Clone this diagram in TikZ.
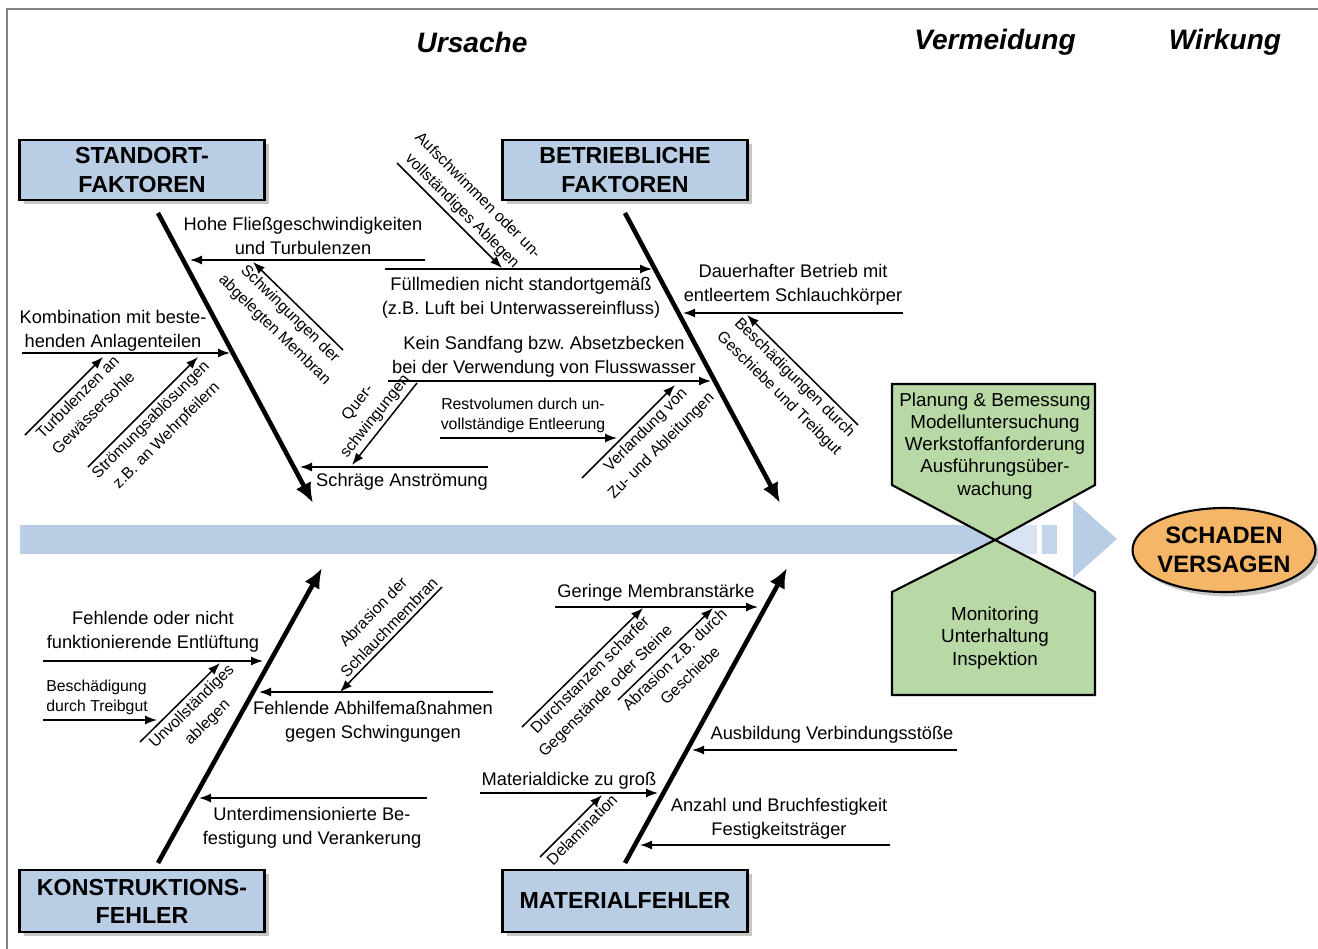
\documentclass[tikz,border=0pt]{standalone}
\usepackage{fontspec}
\setmainfont{Liberation Sans}
\usetikzlibrary{arrows.meta,shapes.geometric,shadows}
\frenchspacing

\definecolor{boxblue}{RGB}{185,205,229}
\definecolor{bandlight}{RGB}{216,228,242}
\definecolor{sage}{RGB}{184,216,166}
\definecolor{dmgorange}{RGB}{246,182,104}
\definecolor{framegray}{RGB}{130,130,130}

\tikzset{
  bone/.style={line width=2.6pt,-{Latex[length=4mm,width=3.4mm]}},
  twig/.style={line width=0.85pt,-{Latex[length=2.4mm,width=1.8mm]}},
  lbl/.style={inner sep=0pt,align=center,font=\fontsize{10.4}{13.6}\selectfont},
  slbl/.style={inner sep=0pt,align=center,font=\fontsize{9}{11.3}\selectfont},
  dlbl/.style={inner sep=0pt,align=center,sloped,font=\fontsize{9}{12.6}\selectfont},
  groupbox/.style={draw,line width=1.2pt,fill=boxblue,minimum width=4.9cm,
    minimum height=1.2cm,align=center,font=\bfseries\fontsize{13.2}{16}\selectfont,
    drop shadow={shadow xshift=2.5pt,shadow yshift=-2.5pt,opacity=.45}},
  heading/.style={inner sep=0pt,font=\bfseries\itshape\fontsize{16}{19}\selectfont},
  measure/.style={inner sep=0pt,align=center,font=\fontsize{10.7}{12.6}\selectfont}
}

\begin{document}
\begin{tikzpicture}[x=0.02cm,y=-0.02cm]
\useasboundingbox (0,0) rectangle (1318,949);
\draw[framegray,line width=1.1pt] (7,949) -- (7,9) -- (1318,9);

% headings
\node[heading] (ursache) at (472,42) {Ursache};
\node[heading] (vermeid) at (995,42) {Vermeidung};
\node[heading] (wirkung) at (1225,42) {Wirkung};

% main band
\fill[boxblue] (20,525) rectangle (1000,554);
\fill[bandlight] (1000,525) rectangle (1037,554);
\fill[boxblue!85] (1042,525) rectangle (1057,554);
\fill[boxblue] (1073,500) -- (1117,539) -- (1073,578) -- cycle;

% prevention
\coordinate (cross) at (995,540);
\draw[fill=sage,line width=1.2pt] (892,384) -- (1095,384) -- (1095,485) -- (cross) -- (892,485) -- cycle;
\draw[fill=sage,line width=1.2pt] (cross) -- (1095,592) -- (1095,695) -- (892,695) -- (892,592) -- cycle;
\node[measure] (planung) at (995,446) {Planung \& Bemessung\\Modelluntersuchung\\Werkstoffanforderung\\Ausführungsüber-\\wachung};
\node[measure] (monitor) at (995,638) {Monitoring\\Unterhaltung\\Inspektion};

% effect
\node[ellipse,draw,line width=1.2pt,fill=dmgorange,inner sep=0pt,inner xsep=-3pt,
  minimum width=3.66cm,minimum height=1.68cm,align=center,
  font=\bfseries\fontsize{13.5}{16.4}\selectfont,
  drop shadow={shadow xshift=2.5pt,shadow yshift=-2.5pt,opacity=.45}] (schaden) at (1224,550) {SCHADEN\\VERSAGEN};

% groups
\node[groupbox] (standort) at (142,170) {STANDORT-\\FAKTOREN};
\node[groupbox] (betrieb) at (625,170) {BETRIEBLICHE\\FAKTOREN};
\node[groupbox,minimum height=1.24cm] (konstr) at (142,901) {KONSTRUKTIONS-\\FEHLER};
\node[groupbox,minimum height=1.24cm] (material) at (625,901) {MATERIALFEHLER};

% bones
\coordinate (sf0) at (158,213); \coordinate (sf1) at (313,503);
\coordinate (bf0) at (625,213); \coordinate (bf1) at (780,503);
\coordinate (kf0) at (158,863); \coordinate (kf1) at (322,568);
\coordinate (mf0) at (625,863); \coordinate (mf1) at (787,568);
\draw[bone] (sf0) -- (sf1);
\draw[bone] (bf0) -- (bf1);
\draw[bone] (kf0) -- (kf1);
\draw[bone] (mf0) -- (mf1);

% standort
\coordinate (hohe0) at (425,260); \coordinate (hohe1) at (190,260);
\coordinate (kombi0) at (22,353); \coordinate (kombi1) at (230,353);
\coordinate (turb0) at (25,435); \coordinate (turb1) at (103,357);
\coordinate (stroem0) at (88,467); \coordinate (stroem1) at (198,357);
\coordinate (schwing0) at (343,350); \coordinate (schwing1) at (253,262);
\coordinate (quer0) at (417,383); \coordinate (quer1) at (352,465);
\coordinate (schraeg0) at (488,467); \coordinate (schraeg1) at (300,467);
\draw[twig] (hohe0) -- (hohe1);
\draw[twig] (kombi0) -- (kombi1);
\draw[twig] (turb0) -- node[dlbl,below=2pt,pos=.58] (lTurb) {Turbulenzen an\\Gewässersohle} (turb1);
\draw[twig] (stroem0) -- node[dlbl,below=2pt,pos=.5] (lStroem) {Strömungsablösungen\\z.B. an Wehrpfeilern} (stroem1);
\draw[twig] (schwing0) -- node[dlbl,below=2pt,pos=.5] (lSchwing) {Schwingungen der\\abgelegten Membran} (schwing1);
\draw[twig] (quer0) -- node[dlbl,above=2pt,pos=.5] (lQuer) {Quer-\\schwingungen} (quer1);
\draw[twig] (schraeg0) -- (schraeg1);
\node[lbl] (lHohe) at (303,236) {Hohe Fließgeschwindigkeiten\\und Turbulenzen};
\node[lbl] (lKombi) at (113,331) {Kombination mit beste-\\henden Anlagenteilen};
\node[lbl] (lSchraeg) at (402,482) {Schräge Anströmung};

% betrieb
\coordinate (aufsch0) at (397,163); \coordinate (aufsch1) at (502,268);
\coordinate (fuell0) at (385,269); \coordinate (fuell1) at (652,269);
\coordinate (sand0) at (388,381); \coordinate (sand1) at (711,381);
\coordinate (rest0) at (440,438); \coordinate (rest1) at (617,438);
\coordinate (verl0) at (582,478); \coordinate (verl1) at (675,385);
\coordinate (dauer0) at (903,313); \coordinate (dauer1) at (683,313);
\coordinate (besch0) at (858,425); \coordinate (besch1) at (747,315);
\draw[twig] (aufsch0) -- node[dlbl,above=2pt,pos=.54] (lAufsch) {Aufschwimmen oder un-\\vollständiges Ablegen} (aufsch1);
\draw[twig] (fuell0) -- (fuell1);
\draw[twig] (sand0) -- (sand1);
\draw[twig] (rest0) -- (rest1);
\draw[twig] (verl0) -- node[dlbl,below=2pt,pos=.6] (lVerl) {Verlandung von\\Zu- und Ableitungen} (verl1);
\draw[twig] (dauer0) -- (dauer1);
\draw[twig] (besch0) -- node[dlbl,below=2pt,pos=.5] (lBesch) {Beschädigungen durch\\Geschiebe und Treibgut} (besch1);
\node[lbl] (lFuell) at (521,298) {Füllmedien nicht standortgemäß\\(z.B. Luft bei Unterwassereinfluss)};
\node[lbl] (lSand) at (544,357) {Kein Sandfang bzw. Absetzbecken\\bei der Verwendung von Flusswasser};
\node[slbl] (lRest) at (523,415) {Restvolumen durch un-\\vollständige Entleerung};
\node[lbl] (lDauer) at (793,285) {Dauerhafter Betrieb mit\\entleertem Schlauchkörper};

% konstruktion
\coordinate (entl0) at (43,661); \coordinate (entl1) at (263,661);
\coordinate (treib0) at (43,720); \coordinate (treib1) at (157,720);
\coordinate (unvoll0) at (140,742); \coordinate (unvoll1) at (220,663);
\coordinate (abhilfe0) at (493,692); \coordinate (abhilfe1) at (259,692);
\coordinate (abras0) at (442,587); \coordinate (abras1) at (340,692);
\coordinate (unterd0) at (427,798); \coordinate (unterd1) at (199,798);
\draw[twig] (entl0) -- (entl1);
\draw[twig] (treib0) -- (treib1);
\draw[twig] (unvoll0) -- node[dlbl,below=2pt,pos=.55] (lUnvoll) {Unvollständiges\\ablegen} (unvoll1);
\draw[twig] (abhilfe0) -- (abhilfe1);
\draw[twig] (abras0) -- node[dlbl,above=2pt,pos=.45] (lAbras) {Abrasion der\\Schlauchmembran} (abras1);
\draw[twig] (unterd0) -- (unterd1);
\node[lbl] (lEntl) at (153,632) {Fehlende oder nicht\\funktionierende Entlüftung};
\node[slbl,align=left,anchor=west] (lTreib) at (46,697) {Beschädigung\\durch Treibgut};
\node[lbl] (lAbhilfe) at (373,722) {Fehlende Abhilfemaßnahmen\\gegen Schwingungen};
\node[lbl] (lUnterd) at (312,828) {Unterdimensionierte Be-\\festigung und Verankerung};

% material
\coordinate (gering0) at (555,607); \coordinate (gering1) at (758,607);
\coordinate (durch0) at (522,727); \coordinate (durch1) at (643,608);
\coordinate (abrz0) at (618,700); \coordinate (abrz1) at (713,608);
\coordinate (ausb0) at (957,750); \coordinate (ausb1) at (692,750);
\coordinate (dicke0) at (480,793); \coordinate (dicke1) at (658,793);
\coordinate (delam0) at (540,857); \coordinate (delam1) at (602,795);
\coordinate (anzahl0) at (890,845); \coordinate (anzahl1) at (640,845);
\draw[twig] (gering0) -- (gering1);
\draw[twig] (durch0) -- node[dlbl,below=2pt,pos=.5] (lDurch) {Durchstanzen scharfer\\Gegenstände oder Steine} (durch1);
\draw[twig] (abrz0) -- node[dlbl,below=2pt,pos=.52] (lAbrz) {Abrasion z.B. durch\\Geschiebe} (abrz1);
\draw[twig] (ausb0) -- (ausb1);
\draw[twig] (dicke0) -- (dicke1);
\draw[twig] (delam0) -- node[dlbl,below=2pt,pos=.56] (lDelam) {Delamination} (delam1);
\draw[twig] (anzahl0) -- (anzahl1);
\node[lbl] (lGering) at (656,593) {Geringe Membranstärke};
\node[lbl] (lAusb) at (832,735) {Ausbildung Verbindungsstöße};
\node[lbl] (lDicke) at (569,781) {Materialdicke zu groß};
\node[lbl] (lAnzahl) at (779,819) {Anzahl und Bruchfestigkeit\\Festigkeitsträger};
\end{tikzpicture}
\end{document}
